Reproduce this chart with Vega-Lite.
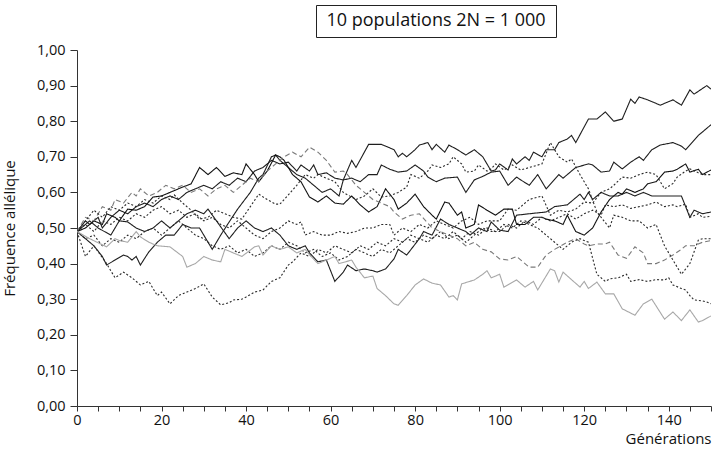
{
  "$schema": "https://vega.github.io/schema/vega-lite/v6.json",
  "background": "white",
  "padding": {"left": 2, "top": 4, "right": 5, "bottom": 2},
  "config": {"view": {"stroke": null}, "font": "Open Sans"},
  "spacing": 4,
  "vconcat": [
    {
      "spacing": 0,
      "hconcat": [
        {
          "width": 238, "height": 32,
          "data": {"values": [{"t": ""}]},
          "mark": {"type": "text"},
          "encoding": {"text": {"field": "t"}}
        },
        {
          "width": 240, "height": 32,
          "view": {"stroke": "#222", "strokeWidth": 1},
          "data": {"values": [{"t": "10 populations 2N = 1 000"}]},
          "mark": {"type": "text", "fontSize": 18, "font": "Open Sans", "color": "#111"},
          "encoding": {"text": {"field": "t"}}
        }
      ]
    },
    {
      "width": 634, "height": 356,
      "data": {"values": [
{"s":"A","g":0,"p":0.49},{"s":"A","g":2,"p":0.47},{"s":"A","g":4,"p":0.45},{"s":"A","g":6,"p":0.42},{"s":"A","g":7,"p":0.396},{"s":"A","g":9,"p":0.41},{"s":"A","g":11,"p":0.424},{"s":"A","g":12,"p":0.42},{"s":"A","g":13,"p":0.41},{"s":"A","g":14,"p":0.42},{"s":"A","g":15,"p":0.396},{"s":"A","g":17,"p":0.433},{"s":"A","g":19,"p":0.46},{"s":"A","g":21,"p":0.48},{"s":"A","g":23,"p":0.48},{"s":"A","g":25,"p":0.51},{"s":"A","g":27,"p":0.5},{"s":"A","g":29,"p":0.5},{"s":"A","g":31,"p":0.46},{"s":"A","g":32,"p":0.44},{"s":"A","g":34,"p":0.48},{"s":"A","g":36,"p":0.517},{"s":"A","g":38,"p":0.553},{"s":"A","g":41,"p":0.6},{"s":"A","g":43,"p":0.64},{"s":"A","g":44,"p":0.65},{"s":"A","g":46,"p":0.7},{"s":"A","g":47,"p":0.705},{"s":"A","g":48,"p":0.69},{"s":"A","g":50,"p":0.67},{"s":"A","g":52,"p":0.65},{"s":"A","g":54,"p":0.64},{"s":"A","g":56,"p":0.62},{"s":"A","g":58,"p":0.6},{"s":"A","g":60,"p":0.61},{"s":"A","g":62,"p":0.59},{"s":"A","g":63,"p":0.635},{"s":"A","g":65,"p":0.69},{"s":"A","g":66,"p":0.67},{"s":"A","g":69,"p":0.735},{"s":"A","g":72,"p":0.735},{"s":"A","g":75,"p":0.72},{"s":"A","g":76,"p":0.7},{"s":"A","g":77,"p":0.71},{"s":"A","g":78,"p":0.7},{"s":"A","g":80,"p":0.72},{"s":"A","g":81,"p":0.733},{"s":"A","g":83,"p":0.74},{"s":"A","g":84,"p":0.72},{"s":"A","g":85,"p":0.735},{"s":"A","g":87,"p":0.713},{"s":"A","g":88,"p":0.733},{"s":"A","g":90,"p":0.72},{"s":"A","g":92,"p":0.705},{"s":"A","g":94,"p":0.72},{"s":"A","g":96,"p":0.7},{"s":"A","g":98,"p":0.66},{"s":"A","g":99,"p":0.663},{"s":"A","g":100,"p":0.68},{"s":"A","g":102,"p":0.663},{"s":"A","g":103,"p":0.694},{"s":"A","g":104,"p":0.68},{"s":"A","g":106,"p":0.7},{"s":"A","g":107,"p":0.69},{"s":"A","g":108,"p":0.713},{"s":"A","g":110,"p":0.7},{"s":"A","g":111,"p":0.72},{"s":"A","g":113,"p":0.72},{"s":"A","g":114,"p":0.74},{"s":"A","g":116,"p":0.75},{"s":"A","g":117,"p":0.76},{"s":"A","g":118,"p":0.74},{"s":"A","g":121,"p":0.806},{"s":"A","g":123,"p":0.806},{"s":"A","g":125,"p":0.826},{"s":"A","g":127,"p":0.8},{"s":"A","g":129,"p":0.806},{"s":"A","g":131,"p":0.862},{"s":"A","g":132,"p":0.85},{"s":"A","g":133,"p":0.868},{"s":"A","g":135,"p":0.86},{"s":"A","g":138,"p":0.845},{"s":"A","g":141,"p":0.86},{"s":"A","g":143,"p":0.845},{"s":"A","g":145,"p":0.888},{"s":"A","g":146,"p":0.876},{"s":"A","g":149,"p":0.9},{"s":"A","g":150,"p":0.89},
{"s":"B","g":0,"p":0.49},{"s":"B","g":2,"p":0.52},{"s":"B","g":3,"p":0.51},{"s":"B","g":5,"p":0.53},{"s":"B","g":6,"p":0.5},{"s":"B","g":8,"p":0.53},{"s":"B","g":10,"p":0.55},{"s":"B","g":12,"p":0.54},{"s":"B","g":14,"p":0.56},{"s":"B","g":16,"p":0.57},{"s":"B","g":18,"p":0.56},{"s":"B","g":20,"p":0.58},{"s":"B","g":22,"p":0.59},{"s":"B","g":24,"p":0.58},{"s":"B","g":26,"p":0.6},{"s":"B","g":28,"p":0.61},{"s":"B","g":30,"p":0.62},{"s":"B","g":32,"p":0.61},{"s":"B","g":34,"p":0.63},{"s":"B","g":36,"p":0.62},{"s":"B","g":38,"p":0.64},{"s":"B","g":40,"p":0.63},{"s":"B","g":42,"p":0.66},{"s":"B","g":44,"p":0.67},{"s":"B","g":46,"p":0.69},{"s":"B","g":48,"p":0.68},{"s":"B","g":50,"p":0.685},{"s":"B","g":52,"p":0.66},{"s":"B","g":53,"p":0.677},{"s":"B","g":55,"p":0.66},{"s":"B","g":56,"p":0.677},{"s":"B","g":57,"p":0.65},{"s":"B","g":59,"p":0.655},{"s":"B","g":61,"p":0.64},{"s":"B","g":63,"p":0.635},{"s":"B","g":65,"p":0.64},{"s":"B","g":67,"p":0.63},{"s":"B","g":69,"p":0.65},{"s":"B","g":71,"p":0.65},{"s":"B","g":72,"p":0.677},{"s":"B","g":74,"p":0.665},{"s":"B","g":76,"p":0.657},{"s":"B","g":78,"p":0.66},{"s":"B","g":80,"p":0.677},{"s":"B","g":82,"p":0.66},{"s":"B","g":83,"p":0.643},{"s":"B","g":85,"p":0.63},{"s":"B","g":87,"p":0.64},{"s":"B","g":90,"p":0.643},{"s":"B","g":92,"p":0.6},{"s":"B","g":94,"p":0.635},{"s":"B","g":96,"p":0.645},{"s":"B","g":98,"p":0.657},{"s":"B","g":100,"p":0.66},{"s":"B","g":102,"p":0.62},{"s":"B","g":104,"p":0.643},{"s":"B","g":105,"p":0.635},{"s":"B","g":107,"p":0.62},{"s":"B","g":109,"p":0.65},{"s":"B","g":111,"p":0.61},{"s":"B","g":114,"p":0.65},{"s":"B","g":115,"p":0.64},{"s":"B","g":118,"p":0.67},{"s":"B","g":121,"p":0.68},{"s":"B","g":122,"p":0.677},{"s":"B","g":124,"p":0.657},{"s":"B","g":126,"p":0.66},{"s":"B","g":127,"p":0.685},{"s":"B","g":129,"p":0.666},{"s":"B","g":131,"p":0.685},{"s":"B","g":133,"p":0.7},{"s":"B","g":134,"p":0.69},{"s":"B","g":136,"p":0.72},{"s":"B","g":138,"p":0.733},{"s":"B","g":141,"p":0.74},{"s":"B","g":143,"p":0.73},{"s":"B","g":144,"p":0.72},{"s":"B","g":147,"p":0.76},{"s":"B","g":150,"p":0.79},
{"s":"C","g":0,"p":0.49},{"s":"C","g":2,"p":0.5},{"s":"C","g":4,"p":0.52},{"s":"C","g":6,"p":0.51},{"s":"C","g":7,"p":0.54},{"s":"C","g":9,"p":0.53},{"s":"C","g":10,"p":0.52},{"s":"C","g":12,"p":0.553},{"s":"C","g":14,"p":0.55},{"s":"C","g":16,"p":0.56},{"s":"C","g":18,"p":0.587},{"s":"C","g":20,"p":0.59},{"s":"C","g":22,"p":0.6},{"s":"C","g":24,"p":0.61},{"s":"C","g":25,"p":0.615},{"s":"C","g":27,"p":0.624},{"s":"C","g":29,"p":0.67},{"s":"C","g":31,"p":0.65},{"s":"C","g":33,"p":0.67},{"s":"C","g":35,"p":0.645},{"s":"C","g":37,"p":0.655},{"s":"C","g":39,"p":0.65},{"s":"C","g":40,"p":0.68},{"s":"C","g":42,"p":0.65},{"s":"C","g":43,"p":0.63},{"s":"C","g":45,"p":0.66},{"s":"C","g":47,"p":0.705},{"s":"C","g":48,"p":0.7},{"s":"C","g":49,"p":0.69},{"s":"C","g":51,"p":0.65},{"s":"C","g":53,"p":0.63},{"s":"C","g":55,"p":0.587},{"s":"C","g":57,"p":0.573},{"s":"C","g":59,"p":0.59},{"s":"C","g":61,"p":0.57},{"s":"C","g":63,"p":0.567},{"s":"C","g":65,"p":0.59},{"s":"C","g":67,"p":0.565},{"s":"C","g":69,"p":0.545},{"s":"C","g":71,"p":0.56},{"s":"C","g":73,"p":0.61},{"s":"C","g":75,"p":0.58},{"s":"C","g":76,"p":0.553},{"s":"C","g":78,"p":0.57},{"s":"C","g":80,"p":0.595},{"s":"C","g":82,"p":0.56},{"s":"C","g":84,"p":0.536},{"s":"C","g":85,"p":0.525},{"s":"C","g":87,"p":0.573},{"s":"C","g":88,"p":0.57},{"s":"C","g":90,"p":0.536},{"s":"C","g":91,"p":0.545},{"s":"C","g":92,"p":0.5},{"s":"C","g":94,"p":0.51},{"s":"C","g":95,"p":0.565},{"s":"C","g":97,"p":0.55},{"s":"C","g":99,"p":0.536},{"s":"C","g":101,"p":0.553},{"s":"C","g":103,"p":0.553},{"s":"C","g":104,"p":0.51},{"s":"C","g":106,"p":0.51},{"s":"C","g":108,"p":0.53},{"s":"C","g":110,"p":0.53},{"s":"C","g":111,"p":0.525},{"s":"C","g":113,"p":0.52},{"s":"C","g":115,"p":0.51},{"s":"C","g":116,"p":0.536},{"s":"C","g":118,"p":0.49},{"s":"C","g":120,"p":0.48},{"s":"C","g":122,"p":0.5},{"s":"C","g":124,"p":0.545},{"s":"C","g":126,"p":0.58},{"s":"C","g":128,"p":0.6},{"s":"C","g":129,"p":0.595},{"s":"C","g":130,"p":0.61},{"s":"C","g":132,"p":0.6},{"s":"C","g":134,"p":0.61},{"s":"C","g":135,"p":0.624},{"s":"C","g":137,"p":0.63},{"s":"C","g":139,"p":0.657},{"s":"C","g":141,"p":0.66},{"s":"C","g":142,"p":0.665},{"s":"C","g":144,"p":0.68},{"s":"C","g":145,"p":0.657},{"s":"C","g":147,"p":0.665},{"s":"C","g":148,"p":0.65},{"s":"C","g":150,"p":0.663},
{"s":"D","g":0,"p":0.49},{"s":"D","g":2,"p":0.51},{"s":"D","g":4,"p":0.49},{"s":"D","g":6,"p":0.52},{"s":"D","g":8,"p":0.51},{"s":"D","g":10,"p":0.53},{"s":"D","g":12,"p":0.52},{"s":"D","g":14,"p":0.54},{"s":"D","g":16,"p":0.53},{"s":"D","g":18,"p":0.55},{"s":"D","g":20,"p":0.56},{"s":"D","g":22,"p":0.54},{"s":"D","g":24,"p":0.55},{"s":"D","g":26,"p":0.53},{"s":"D","g":28,"p":0.54},{"s":"D","g":30,"p":0.52},{"s":"D","g":32,"p":0.53},{"s":"D","g":34,"p":0.51},{"s":"D","g":36,"p":0.5},{"s":"D","g":38,"p":0.52},{"s":"D","g":40,"p":0.5},{"s":"D","g":42,"p":0.48},{"s":"D","g":44,"p":0.47},{"s":"D","g":46,"p":0.49},{"s":"D","g":48,"p":0.5},{"s":"D","g":50,"p":0.52},{"s":"D","g":52,"p":0.51},{"s":"D","g":53,"p":0.517},{"s":"D","g":54,"p":0.48},{"s":"D","g":56,"p":0.49},{"s":"D","g":58,"p":0.48},{"s":"D","g":60,"p":0.48},{"s":"D","g":62,"p":0.49},{"s":"D","g":64,"p":0.485},{"s":"D","g":66,"p":0.49},{"s":"D","g":68,"p":0.5},{"s":"D","g":70,"p":0.5},{"s":"D","g":72,"p":0.51},{"s":"D","g":74,"p":0.51},{"s":"D","g":75,"p":0.48},{"s":"D","g":77,"p":0.5},{"s":"D","g":79,"p":0.49},{"s":"D","g":81,"p":0.51},{"s":"D","g":83,"p":0.5},{"s":"D","g":85,"p":0.52},{"s":"D","g":87,"p":0.51},{"s":"D","g":89,"p":0.5},{"s":"D","g":91,"p":0.52},{"s":"D","g":93,"p":0.53},{"s":"D","g":95,"p":0.51},{"s":"D","g":97,"p":0.52},{"s":"D","g":100,"p":0.52},{"s":"D","g":102,"p":0.553},{"s":"D","g":104,"p":0.55},{"s":"D","g":107,"p":0.58},{"s":"D","g":110,"p":0.59},{"s":"D","g":112,"p":0.536},{"s":"D","g":114,"p":0.55},{"s":"D","g":116,"p":0.545},{"s":"D","g":118,"p":0.553},{"s":"D","g":120,"p":0.573},{"s":"D","g":122,"p":0.57},{"s":"D","g":124,"p":0.6},{"s":"D","g":126,"p":0.61},{"s":"D","g":127,"p":0.62},{"s":"D","g":129,"p":0.643},{"s":"D","g":131,"p":0.64},{"s":"D","g":133,"p":0.65},{"s":"D","g":135,"p":0.657},{"s":"D","g":137,"p":0.65},{"s":"D","g":139,"p":0.61},{"s":"D","g":141,"p":0.625},{"s":"D","g":142,"p":0.643},{"s":"D","g":144,"p":0.66},{"s":"D","g":145,"p":0.666},{"s":"D","g":147,"p":0.655},{"s":"D","g":148,"p":0.65},{"s":"D","g":150,"p":0.65},
{"s":"E","g":0,"p":0.49},{"s":"E","g":3,"p":0.52},{"s":"E","g":5,"p":0.5},{"s":"E","g":8,"p":0.48},{"s":"E","g":10,"p":0.52},{"s":"E","g":12,"p":0.517},{"s":"E","g":14,"p":0.5},{"s":"E","g":16,"p":0.49},{"s":"E","g":18,"p":0.5},{"s":"E","g":20,"p":0.52},{"s":"E","g":22,"p":0.5},{"s":"E","g":24,"p":0.52},{"s":"E","g":26,"p":0.54},{"s":"E","g":28,"p":0.55},{"s":"E","g":30,"p":0.54},{"s":"E","g":31,"p":0.553},{"s":"E","g":33,"p":0.52},{"s":"E","g":36,"p":0.47},{"s":"E","g":38,"p":0.5},{"s":"E","g":40,"p":0.52},{"s":"E","g":42,"p":0.5},{"s":"E","g":44,"p":0.49},{"s":"E","g":46,"p":0.5},{"s":"E","g":48,"p":0.48},{"s":"E","g":50,"p":0.45},{"s":"E","g":52,"p":0.44},{"s":"E","g":54,"p":0.45},{"s":"E","g":55,"p":0.43},{"s":"E","g":57,"p":0.405},{"s":"E","g":59,"p":0.41},{"s":"E","g":61,"p":0.35},{"s":"E","g":63,"p":0.376},{"s":"E","g":64,"p":0.396},{"s":"E","g":66,"p":0.38},{"s":"E","g":68,"p":0.385},{"s":"E","g":70,"p":0.38},{"s":"E","g":71,"p":0.376},{"s":"E","g":73,"p":0.385},{"s":"E","g":75,"p":0.413},{"s":"E","g":76,"p":0.44},{"s":"E","g":78,"p":0.424},{"s":"E","g":81,"p":0.47},{"s":"E","g":82,"p":0.49},{"s":"E","g":84,"p":0.48},{"s":"E","g":86,"p":0.525},{"s":"E","g":88,"p":0.51},{"s":"E","g":90,"p":0.5},{"s":"E","g":92,"p":0.49},{"s":"E","g":93,"p":0.48},{"s":"E","g":95,"p":0.5},{"s":"E","g":97,"p":0.49},{"s":"E","g":98,"p":0.517},{"s":"E","g":100,"p":0.494},{"s":"E","g":102,"p":0.49},{"s":"E","g":104,"p":0.536},{"s":"E","g":107,"p":0.54},{"s":"E","g":111,"p":0.545},{"s":"E","g":113,"p":0.56},{"s":"E","g":116,"p":0.565},{"s":"E","g":119,"p":0.595},{"s":"E","g":120,"p":0.58},{"s":"E","g":121,"p":0.6},{"s":"E","g":122,"p":0.58},{"s":"E","g":124,"p":0.6},{"s":"E","g":126,"p":0.59},{"s":"E","g":128,"p":0.59},{"s":"E","g":130,"p":0.6},{"s":"E","g":132,"p":0.59},{"s":"E","g":134,"p":0.6},{"s":"E","g":136,"p":0.59},{"s":"E","g":140,"p":0.59},{"s":"E","g":143,"p":0.59},{"s":"E","g":145,"p":0.53},{"s":"E","g":146,"p":0.55},{"s":"E","g":148,"p":0.54},{"s":"E","g":150,"p":0.545},
{"s":"F","g":0,"p":0.49},{"s":"F","g":2,"p":0.47},{"s":"F","g":4,"p":0.48},{"s":"F","g":6,"p":0.45},{"s":"F","g":8,"p":0.47},{"s":"F","g":10,"p":0.46},{"s":"F","g":12,"p":0.48},{"s":"F","g":14,"p":0.47},{"s":"F","g":16,"p":0.49},{"s":"F","g":18,"p":0.5},{"s":"F","g":20,"p":0.48},{"s":"F","g":22,"p":0.5},{"s":"F","g":24,"p":0.52},{"s":"F","g":26,"p":0.5},{"s":"F","g":28,"p":0.48},{"s":"F","g":30,"p":0.47},{"s":"F","g":32,"p":0.45},{"s":"F","g":34,"p":0.44},{"s":"F","g":36,"p":0.45},{"s":"F","g":38,"p":0.43},{"s":"F","g":40,"p":0.44},{"s":"F","g":42,"p":0.42},{"s":"F","g":44,"p":0.43},{"s":"F","g":46,"p":0.45},{"s":"F","g":48,"p":0.44},{"s":"F","g":50,"p":0.46},{"s":"F","g":52,"p":0.45},{"s":"F","g":54,"p":0.43},{"s":"F","g":56,"p":0.44},{"s":"F","g":58,"p":0.42},{"s":"F","g":60,"p":0.43},{"s":"F","g":62,"p":0.41},{"s":"F","g":64,"p":0.42},{"s":"F","g":66,"p":0.44},{"s":"F","g":68,"p":0.43},{"s":"F","g":70,"p":0.42},{"s":"F","g":72,"p":0.44},{"s":"F","g":74,"p":0.43},{"s":"F","g":76,"p":0.45},{"s":"F","g":78,"p":0.47},{"s":"F","g":80,"p":0.46},{"s":"F","g":82,"p":0.48},{"s":"F","g":84,"p":0.47},{"s":"F","g":86,"p":0.49},{"s":"F","g":88,"p":0.47},{"s":"F","g":90,"p":0.48},{"s":"F","g":92,"p":0.46},{"s":"F","g":94,"p":0.48},{"s":"F","g":96,"p":0.5},{"s":"F","g":98,"p":0.49},{"s":"F","g":100,"p":0.49},{"s":"F","g":102,"p":0.51},{"s":"F","g":104,"p":0.5},{"s":"F","g":106,"p":0.52},{"s":"F","g":108,"p":0.51},{"s":"F","g":110,"p":0.53},{"s":"F","g":112,"p":0.52},{"s":"F","g":114,"p":0.53},{"s":"F","g":116,"p":0.54},{"s":"F","g":118,"p":0.525},{"s":"F","g":120,"p":0.54},{"s":"F","g":122,"p":0.55},{"s":"F","g":124,"p":0.536},{"s":"F","g":125,"p":0.565},{"s":"F","g":127,"p":0.56},{"s":"F","g":129,"p":0.565},{"s":"F","g":131,"p":0.555},{"s":"F","g":133,"p":0.56},{"s":"F","g":135,"p":0.565},{"s":"F","g":137,"p":0.573},{"s":"F","g":139,"p":0.56},{"s":"F","g":141,"p":0.565},{"s":"F","g":142,"p":0.56},{"s":"F","g":144,"p":0.567},{"s":"F","g":145,"p":0.53},{"s":"F","g":147,"p":0.54},{"s":"F","g":148,"p":0.53},{"s":"F","g":150,"p":0.533},
{"s":"G","g":0,"p":0.49},{"s":"G","g":2,"p":0.53},{"s":"G","g":4,"p":0.52},{"s":"G","g":6,"p":0.56},{"s":"G","g":8,"p":0.55},{"s":"G","g":9,"p":0.58},{"s":"G","g":11,"p":0.57},{"s":"G","g":13,"p":0.6},{"s":"G","g":14,"p":0.59},{"s":"G","g":15,"p":0.61},{"s":"G","g":17,"p":0.59},{"s":"G","g":19,"p":0.6},{"s":"G","g":21,"p":0.62},{"s":"G","g":23,"p":0.61},{"s":"G","g":25,"p":0.62},{"s":"G","g":27,"p":0.6},{"s":"G","g":29,"p":0.61},{"s":"G","g":31,"p":0.59},{"s":"G","g":33,"p":0.61},{"s":"G","g":35,"p":0.62},{"s":"G","g":37,"p":0.6},{"s":"G","g":39,"p":0.62},{"s":"G","g":41,"p":0.64},{"s":"G","g":43,"p":0.63},{"s":"G","g":45,"p":0.66},{"s":"G","g":47,"p":0.68},{"s":"G","g":49,"p":0.7},{"s":"G","g":51,"p":0.713},{"s":"G","g":53,"p":0.7},{"s":"G","g":55,"p":0.727},{"s":"G","g":57,"p":0.713},{"s":"G","g":59,"p":0.69},{"s":"G","g":61,"p":0.657},{"s":"G","g":63,"p":0.66},{"s":"G","g":64,"p":0.65},{"s":"G","g":66,"p":0.62},{"s":"G","g":68,"p":0.6},{"s":"G","g":70,"p":0.58},{"s":"G","g":72,"p":0.57},{"s":"G","g":74,"p":0.56},{"s":"G","g":75,"p":0.545},{"s":"G","g":77,"p":0.525},{"s":"G","g":79,"p":0.536},{"s":"G","g":81,"p":0.54},{"s":"G","g":84,"p":0.5},{"s":"G","g":86,"p":0.49},{"s":"G","g":88,"p":0.48},{"s":"G","g":90,"p":0.47},{"s":"G","g":92,"p":0.45},{"s":"G","g":94,"p":0.46},{"s":"G","g":96,"p":0.44},{"s":"G","g":98,"p":0.433},{"s":"G","g":100,"p":0.413},{"s":"G","g":102,"p":0.41},{"s":"G","g":104,"p":0.42},{"s":"G","g":107,"p":0.39},{"s":"G","g":109,"p":0.39},{"s":"G","g":111,"p":0.424},{"s":"G","g":113,"p":0.44},{"s":"G","g":116,"p":0.46},{"s":"G","g":118,"p":0.47},{"s":"G","g":120,"p":0.455},{"s":"G","g":121,"p":0.45},{"s":"G","g":123,"p":0.455},{"s":"G","g":125,"p":0.455},{"s":"G","g":126,"p":0.46},{"s":"G","g":128,"p":0.424},{"s":"G","g":130,"p":0.415},{"s":"G","g":132,"p":0.447},{"s":"G","g":134,"p":0.43},{"s":"G","g":135,"p":0.4},{"s":"G","g":137,"p":0.4},{"s":"G","g":139,"p":0.41},{"s":"G","g":141,"p":0.424},{"s":"G","g":143,"p":0.44},{"s":"G","g":144,"p":0.45},{"s":"G","g":146,"p":0.45},{"s":"G","g":148,"p":0.46},{"s":"G","g":150,"p":0.465},
{"s":"H","g":0,"p":0.49},{"s":"H","g":2,"p":0.52},{"s":"H","g":4,"p":0.55},{"s":"H","g":6,"p":0.53},{"s":"H","g":8,"p":0.56},{"s":"H","g":10,"p":0.55},{"s":"H","g":12,"p":0.57},{"s":"H","g":14,"p":0.56},{"s":"H","g":16,"p":0.58},{"s":"H","g":18,"p":0.57},{"s":"H","g":20,"p":0.59},{"s":"H","g":22,"p":0.58},{"s":"H","g":23,"p":0.593},{"s":"H","g":25,"p":0.57},{"s":"H","g":27,"p":0.55},{"s":"H","g":29,"p":0.525},{"s":"H","g":31,"p":0.53},{"s":"H","g":33,"p":0.55},{"s":"H","g":35,"p":0.54},{"s":"H","g":37,"p":0.53},{"s":"H","g":39,"p":0.525},{"s":"H","g":41,"p":0.56},{"s":"H","g":43,"p":0.595},{"s":"H","g":45,"p":0.58},{"s":"H","g":47,"p":0.567},{"s":"H","g":48,"p":0.567},{"s":"H","g":50,"p":0.593},{"s":"H","g":52,"p":0.62},{"s":"H","g":54,"p":0.65},{"s":"H","g":56,"p":0.64},{"s":"H","g":57,"p":0.65},{"s":"H","g":59,"p":0.64},{"s":"H","g":61,"p":0.63},{"s":"H","g":63,"p":0.6},{"s":"H","g":66,"p":0.58},{"s":"H","g":68,"p":0.59},{"s":"H","g":70,"p":0.61},{"s":"H","g":72,"p":0.587},{"s":"H","g":74,"p":0.59},{"s":"H","g":76,"p":0.6},{"s":"H","g":78,"p":0.615},{"s":"H","g":79,"p":0.65},{"s":"H","g":81,"p":0.64},{"s":"H","g":83,"p":0.66},{"s":"H","g":84,"p":0.677},{"s":"H","g":86,"p":0.67},{"s":"H","g":88,"p":0.68},{"s":"H","g":89,"p":0.7},{"s":"H","g":91,"p":0.68},{"s":"H","g":92,"p":0.657},{"s":"H","g":94,"p":0.66},{"s":"H","g":95,"p":0.677},{"s":"H","g":97,"p":0.66},{"s":"H","g":98,"p":0.666},{"s":"H","g":99,"p":0.68},{"s":"H","g":101,"p":0.663},{"s":"H","g":103,"p":0.677},{"s":"H","g":105,"p":0.663},{"s":"H","g":107,"p":0.67},{"s":"H","g":110,"p":0.68},{"s":"H","g":112,"p":0.74},{"s":"H","g":114,"p":0.7},{"s":"H","g":116,"p":0.685},{"s":"H","g":117,"p":0.694},{"s":"H","g":119,"p":0.65},{"s":"H","g":121,"p":0.61},{"s":"H","g":123,"p":0.545},{"s":"H","g":126,"p":0.5},{"s":"H","g":127,"p":0.536},{"s":"H","g":129,"p":0.53},{"s":"H","g":131,"p":0.52},{"s":"H","g":133,"p":0.52},{"s":"H","g":135,"p":0.5},{"s":"H","g":137,"p":0.51},{"s":"H","g":139,"p":0.45},{"s":"H","g":140,"p":0.43},{"s":"H","g":142,"p":0.39},{"s":"H","g":143,"p":0.37},{"s":"H","g":145,"p":0.4},{"s":"H","g":147,"p":0.466},{"s":"H","g":148,"p":0.47},{"s":"H","g":150,"p":0.47},
{"s":"I","g":0,"p":0.49},{"s":"I","g":2,"p":0.42},{"s":"I","g":4,"p":0.45},{"s":"I","g":7,"p":0.4},{"s":"I","g":9,"p":0.36},{"s":"I","g":11,"p":0.376},{"s":"I","g":13,"p":0.36},{"s":"I","g":15,"p":0.34},{"s":"I","g":17,"p":0.35},{"s":"I","g":19,"p":0.31},{"s":"I","g":20,"p":0.32},{"s":"I","g":22,"p":0.287},{"s":"I","g":24,"p":0.31},{"s":"I","g":26,"p":0.32},{"s":"I","g":28,"p":0.33},{"s":"I","g":30,"p":0.343},{"s":"I","g":32,"p":0.306},{"s":"I","g":34,"p":0.284},{"s":"I","g":36,"p":0.29},{"s":"I","g":37,"p":0.298},{"s":"I","g":39,"p":0.3},{"s":"I","g":40,"p":0.306},{"s":"I","g":42,"p":0.32},{"s":"I","g":44,"p":0.326},{"s":"I","g":46,"p":0.35},{"s":"I","g":48,"p":0.36},{"s":"I","g":50,"p":0.396},{"s":"I","g":51,"p":0.405},{"s":"I","g":53,"p":0.43},{"s":"I","g":55,"p":0.42},{"s":"I","g":57,"p":0.44},{"s":"I","g":59,"p":0.43},{"s":"I","g":61,"p":0.45},{"s":"I","g":63,"p":0.44},{"s":"I","g":65,"p":0.43},{"s":"I","g":67,"p":0.45},{"s":"I","g":69,"p":0.44},{"s":"I","g":71,"p":0.46},{"s":"I","g":73,"p":0.45},{"s":"I","g":75,"p":0.47},{"s":"I","g":77,"p":0.46},{"s":"I","g":79,"p":0.48},{"s":"I","g":81,"p":0.47},{"s":"I","g":83,"p":0.46},{"s":"I","g":85,"p":0.48},{"s":"I","g":87,"p":0.47},{"s":"I","g":89,"p":0.49},{"s":"I","g":91,"p":0.47},{"s":"I","g":93,"p":0.49},{"s":"I","g":95,"p":0.48},{"s":"I","g":97,"p":0.5},{"s":"I","g":99,"p":0.49},{"s":"I","g":101,"p":0.51},{"s":"I","g":103,"p":0.5},{"s":"I","g":105,"p":0.52},{"s":"I","g":107,"p":0.51},{"s":"I","g":109,"p":0.5},{"s":"I","g":111,"p":0.48},{"s":"I","g":113,"p":0.46},{"s":"I","g":115,"p":0.44},{"s":"I","g":117,"p":0.46},{"s":"I","g":119,"p":0.47},{"s":"I","g":121,"p":0.46},{"s":"I","g":123,"p":0.37},{"s":"I","g":125,"p":0.35},{"s":"I","g":126,"p":0.357},{"s":"I","g":128,"p":0.36},{"s":"I","g":130,"p":0.37},{"s":"I","g":131,"p":0.35},{"s":"I","g":133,"p":0.355},{"s":"I","g":135,"p":0.35},{"s":"I","g":137,"p":0.355},{"s":"I","g":139,"p":0.354},{"s":"I","g":140,"p":0.36},{"s":"I","g":141,"p":0.34},{"s":"I","g":143,"p":0.33},{"s":"I","g":144,"p":0.326},{"s":"I","g":145,"p":0.31},{"s":"I","g":146,"p":0.298},{"s":"I","g":148,"p":0.295},{"s":"I","g":149,"p":0.292},{"s":"I","g":150,"p":0.287},
{"s":"J","g":0,"p":0.49},{"s":"J","g":3,"p":0.47},{"s":"J","g":7,"p":0.447},{"s":"J","g":9,"p":0.47},{"s":"J","g":10,"p":0.465},{"s":"J","g":12,"p":0.46},{"s":"J","g":14,"p":0.49},{"s":"J","g":15,"p":0.475},{"s":"J","g":17,"p":0.46},{"s":"J","g":19,"p":0.45},{"s":"J","g":22,"p":0.447},{"s":"J","g":25,"p":0.42},{"s":"J","g":26,"p":0.39},{"s":"J","g":28,"p":0.4},{"s":"J","g":30,"p":0.42},{"s":"J","g":32,"p":0.41},{"s":"J","g":34,"p":0.405},{"s":"J","g":35,"p":0.44},{"s":"J","g":37,"p":0.43},{"s":"J","g":39,"p":0.42},{"s":"J","g":42,"p":0.447},{"s":"J","g":43,"p":0.45},{"s":"J","g":44,"p":0.424},{"s":"J","g":46,"p":0.45},{"s":"J","g":48,"p":0.44},{"s":"J","g":50,"p":0.447},{"s":"J","g":52,"p":0.43},{"s":"J","g":54,"p":0.44},{"s":"J","g":55,"p":0.425},{"s":"J","g":57,"p":0.4},{"s":"J","g":59,"p":0.41},{"s":"J","g":61,"p":0.42},{"s":"J","g":62,"p":0.4},{"s":"J","g":65,"p":0.41},{"s":"J","g":66,"p":0.39},{"s":"J","g":68,"p":0.36},{"s":"J","g":70,"p":0.365},{"s":"J","g":71,"p":0.33},{"s":"J","g":73,"p":0.31},{"s":"J","g":75,"p":0.287},{"s":"J","g":76,"p":0.283},{"s":"J","g":78,"p":0.31},{"s":"J","g":80,"p":0.34},{"s":"J","g":82,"p":0.357},{"s":"J","g":84,"p":0.345},{"s":"J","g":86,"p":0.34},{"s":"J","g":88,"p":0.306},{"s":"J","g":89,"p":0.31},{"s":"J","g":90,"p":0.298},{"s":"J","g":91,"p":0.343},{"s":"J","g":94,"p":0.354},{"s":"J","g":96,"p":0.37},{"s":"J","g":97,"p":0.38},{"s":"J","g":98,"p":0.36},{"s":"J","g":100,"p":0.37},{"s":"J","g":101,"p":0.334},{"s":"J","g":104,"p":0.354},{"s":"J","g":106,"p":0.334},{"s":"J","g":108,"p":0.35},{"s":"J","g":109,"p":0.326},{"s":"J","g":112,"p":0.385},{"s":"J","g":113,"p":0.38},{"s":"J","g":114,"p":0.348},{"s":"J","g":115,"p":0.376},{"s":"J","g":117,"p":0.355},{"s":"J","g":119,"p":0.334},{"s":"J","g":120,"p":0.35},{"s":"J","g":121,"p":0.33},{"s":"J","g":123,"p":0.348},{"s":"J","g":125,"p":0.315},{"s":"J","g":127,"p":0.315},{"s":"J","g":129,"p":0.273},{"s":"J","g":132,"p":0.255},{"s":"J","g":134,"p":0.287},{"s":"J","g":136,"p":0.3},{"s":"J","g":139,"p":0.244},{"s":"J","g":141,"p":0.264},{"s":"J","g":143,"p":0.24},{"s":"J","g":145,"p":0.27},{"s":"J","g":147,"p":0.236},{"s":"J","g":148,"p":0.24},{"s":"J","g":150,"p":0.253}
      ]},
      "mark": {"type": "line", "strokeJoin": "miter", "clip": true},
      "encoding": {
        "x": {
          "field": "g", "type": "quantitative",
          "scale": {"domain": [0, 150], "nice": false, "zero": false},
          "axis": {
            "title": "Générations", "titleAnchor": "end", "titleAlign": "right", "titleFontSize": 15, "titleFontWeight": "normal", "titleFont": "Open Sans", "titleColor": "#111", "titlePadding": 5,
            "values": [0,5,10,15,20,25,30,35,40,45,50,55,60,65,70,75,80,85,90,95,100,105,110,115,120,125,130,135,140,145,150],
            "labelExpr": "datum.value % 20 === 0 ? datum.label : ''",
            "labelOverlap": false, "labelFlush": false, "labelFontSize": 14.5, "labelFont": "Open Sans", "labelColor": "#111", "labelPadding": 2,
            "tickSize": 5, "tickColor": "#333", "domainColor": "#333", "grid": false
          }
        },
        "y": {
          "field": "p", "type": "quantitative",
          "scale": {"domain": [0, 1], "nice": false},
          "axis": {
            "title": "Fréquence allélique", "titleFontSize": 15, "titleFontWeight": "normal", "titleFont": "Open Sans", "titleColor": "#111", "titlePadding": 19,
            "values": [0,0.1,0.2,0.3,0.4,0.5,0.6,0.7,0.8,0.9,1],
            "labelExpr": "replace(format(datum.value, '.2f'), '.', ',')",
            "labelFlush": false, "labelFontSize": 14.5, "labelFont": "Open Sans", "labelColor": "#111", "labelPadding": 5,
            "tickSize": 7, "tickColor": "#333", "domainColor": "#333", "grid": false
          }
        },
        "detail": {"field": "s", "type": "nominal"},
        "color": {"field": "s", "type": "nominal", "legend": null,
          "scale": {"domain": ["A","B","C","D","E","F","G","H","I","J"],
                    "range": ["#1e1e1e","#1e1e1e","#111111","#2a2a2a","#1e1e1e","#2a2a2a","#7a7a7a","#2a2a2a","#2a2a2a","#a8a8a8"]}},
        "strokeDash": {"field": "s", "type": "nominal", "legend": null,
          "scale": {"domain": ["A","B","C","D","E","F","G","H","I","J"],
                    "range": [[1,0],[1,0],[1,0],[2,2],[1,0],[2,2],[5,3],[2,2],[2,2],[1,0]]}},
        "strokeWidth": {"field": "s", "type": "nominal", "legend": null,
          "scale": {"domain": ["A","B","C","D","E","F","G","H","I","J"],
                    "range": [1.1,1.1,1.8,1.3,1.1,1.3,1.1,1.3,1.5,2]}}
      }
    }
  ]
}
